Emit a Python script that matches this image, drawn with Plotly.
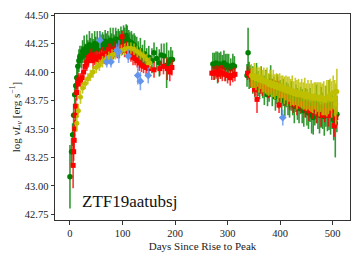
import plotly.graph_objects as go

# ---------------- data ----------------
g_days = [0, 3, 5, 7, 9, 11, 13, 15, 17, 19, 22, 24, 27, 29, 32, 34, 37, 39, 42, 44, 47, 49, 52, 54, 57, 59,
          62, 64, 67, 69, 72, 74, 77, 79, 82, 84, 87, 89, 92, 94, 97, 99, 102, 104, 107, 109, 112, 114, 117, 119,
          122, 124, 127, 130, 134, 138, 142, 146, 150, 156, 160, 165, 170, 174, 179, 184, 188, 192, 195,
          272, 275, 278, 281, 284, 287, 290, 293, 296, 299, 302, 306, 310, 313,
          337, 339, 341, 344, 348, 352, 355, 358, 361, 364, 367, 370, 373, 376, 379, 382, 385, 388, 391, 394, 397,
          400, 403, 406, 409, 412, 415, 418, 421, 424, 427, 430, 433, 436, 439, 442, 445, 448, 451, 454, 457, 460,
          463, 466, 469, 472, 475, 478, 481, 484, 487, 490, 493, 496, 499, 502, 505, 508]
g_lum = [43.08, 43.30, 43.45, 43.62, 43.80, 43.88, 43.95, 44.05, 44.10, 44.14, 44.13, 44.18, 44.20, 44.15, 44.22,
         44.18, 44.24, 44.20, 44.23, 44.19, 44.25, 44.21, 44.24, 44.20, 44.26, 44.22, 44.25, 44.21, 44.27, 44.23,
         44.26, 44.22, 44.28, 44.24, 44.27, 44.23, 44.29, 44.25, 44.28, 44.24, 44.30, 44.26, 44.31, 44.28, 44.32,
         44.29, 44.27, 44.24, 44.26, 44.22, 44.24, 44.20, 44.21, 44.17, 44.19, 44.14, 44.16, 44.11, 44.13, 44.10,
         44.17, 44.12, 44.08, 44.15, 44.14, 44.06, 44.09, 44.11, 44.11,
         44.07, 44.05, 44.08, 44.04, 44.07, 44.06, 44.05, 44.08, 44.04, 44.06, 44.05, 44.03, 44.06, 44.05,
         43.97, 44.17, 43.97, 43.96, 43.93, 43.88, 43.95, 43.90, 43.86, 43.93, 43.87, 43.84, 43.90, 43.80, 43.86,
         43.92, 43.82, 43.86, 43.78, 43.85, 43.80, 43.83, 43.76, 43.82, 43.74, 43.80, 43.76, 43.72, 43.79, 43.74,
         43.70, 43.77, 43.72, 43.68, 43.75, 43.70, 43.66, 43.73, 43.69, 43.64, 43.71, 43.62, 43.60, 43.67, 43.72,
         43.65, 43.62, 43.69, 43.66, 43.61, 43.70, 43.64, 43.71, 43.62, 43.66, 43.58, 43.55, 43.63]
g_err = [0.28, 0.12, 0.10, 0.10, 0.10, 0.09, 0.10, 0.09, 0.10, 0.09, 0.10, 0.10, 0.12, 0.10, 0.11, 0.10, 0.12,
         0.10, 0.11, 0.10, 0.11, 0.10, 0.12, 0.10, 0.10, 0.11, 0.10, 0.12, 0.10, 0.11, 0.10, 0.10, 0.11, 0.10,
         0.12, 0.10, 0.10, 0.11, 0.10, 0.12, 0.10, 0.11, 0.10, 0.11, 0.10, 0.12, 0.10, 0.11, 0.10, 0.11, 0.10,
         0.12, 0.10, 0.10, 0.11, 0.10, 0.12, 0.10, 0.10, 0.11, 0.09, 0.10, 0.12, 0.10, 0.11, 0.20, 0.10, 0.11, 0.08,
         0.10, 0.12, 0.10, 0.14, 0.10, 0.12, 0.10, 0.11, 0.12, 0.10, 0.11, 0.09, 0.10, 0.09,
         0.10, 0.22, 0.12, 0.10, 0.12, 0.10, 0.13, 0.11, 0.10, 0.12, 0.10, 0.13, 0.12, 0.10, 0.12, 0.14, 0.12,
         0.10, 0.12, 0.13, 0.12, 0.10, 0.14, 0.12, 0.13, 0.11, 0.14, 0.12, 0.13, 0.12, 0.15, 0.12, 0.14, 0.13,
         0.12, 0.15, 0.14, 0.13, 0.16, 0.14, 0.15, 0.16, 0.15, 0.14, 0.17, 0.15, 0.16, 0.18, 0.16, 0.17, 0.18,
         0.16, 0.22, 0.17, 0.16, 0.18, 0.30, 0.16]

r_days = [6, 7, 8, 9, 10, 11, 13, 15, 17, 20, 23, 26, 29, 32, 35, 38, 41, 44, 47, 50, 54, 58, 62, 66, 70, 74,
          78, 82, 86, 90, 94, 99, 100, 104, 108, 112, 116, 120, 124, 128, 132, 136, 140, 145, 150, 160, 171, 178,
          185, 190, 194,
          270, 274, 278, 282, 286, 290, 295, 300, 305, 310, 314, 338, 343, 348, 352, 356, 362, 366, 372, 378,
          384, 390, 395, 398, 402, 410, 418, 425, 432, 440, 448, 455, 462, 470, 478, 485, 492, 498, 503, 506]
r_lum = [43.18, 43.30, 43.40, 43.50, 43.62, 43.70, 43.82, 43.90, 43.93, 43.93, 43.95, 44.00, 44.05, 44.08, 44.10,
         44.14, 44.15, 44.10, 44.12, 44.13, 44.11, 44.14, 44.15, 44.13, 44.16, 44.18, 44.19, 44.17, 44.20, 44.18,
         44.21, 44.31, 44.22, 44.19, 44.20, 44.17, 44.15, 44.13, 44.12, 44.10, 44.08, 44.06, 44.05, 44.04, 44.03,
         44.02, 44.03, 44.05, 44.03, 44.00, 44.04,
         43.99, 43.99, 44.00, 43.98, 44.00, 43.99, 43.98, 43.97, 43.95, 43.97, 43.98, 43.99, 43.97, 43.89, 43.85,
         43.76, 43.88, 43.86, 43.88, 43.84, 43.88, 43.86, 43.90, 43.71, 43.80, 43.78, 43.74, 43.72, 43.70, 43.72,
         43.68, 43.66, 43.68, 43.64, 43.62, 43.66, 43.62, 43.66, 43.53, 43.60]
r_err = [0.20, 0.08, 0.08, 0.08, 0.08, 0.07, 0.07, 0.07, 0.06, 0.06, 0.06, 0.07, 0.06, 0.07, 0.06, 0.06, 0.06,
         0.07, 0.06, 0.06, 0.07, 0.06, 0.07, 0.06, 0.06, 0.07, 0.06, 0.06, 0.07, 0.06, 0.06, 0.05, 0.06, 0.06,
         0.07, 0.06, 0.06, 0.07, 0.06, 0.06, 0.07, 0.06, 0.06, 0.07, 0.06, 0.07, 0.06, 0.07, 0.10, 0.08, 0.07,
         0.06, 0.06, 0.06, 0.07, 0.06, 0.07, 0.06, 0.07, 0.07, 0.06, 0.06, 0.06, 0.06, 0.07, 0.06, 0.12, 0.07,
         0.07, 0.06, 0.07, 0.06, 0.07, 0.06, 0.07, 0.07, 0.08, 0.07, 0.08, 0.08, 0.08, 0.08, 0.09, 0.09, 0.09,
         0.10, 0.10, 0.10, 0.09, 0.10, 0.10]

y_days = [13, 16, 20, 24, 29, 34, 39, 44, 50, 56, 62, 68, 74, 80, 86, 92, 98, 104, 110, 116,
          122, 128, 134, 140, 146, 152,
          345, 348, 351, 354, 357, 360, 363, 366, 369, 372, 375, 378, 381, 384, 387, 390, 393, 396, 399, 402,
          405, 408, 411, 414, 417, 420, 423, 426, 429, 432, 435, 438, 441, 444, 447, 450, 453, 456, 459, 462,
          465, 468, 471, 474, 477, 480, 483, 486, 489, 492, 495, 498, 501, 504, 506, 508]
y_lum = [43.55, 43.66, 43.78, 43.86, 43.90, 43.94, 43.97, 44.00, 44.04, 44.06, 44.09, 44.11, 44.13, 44.15, 44.16,
         44.18, 44.19, 44.20, 44.21, 44.21, 44.20, 44.18, 44.16, 44.14, 44.11, 44.08,
         43.97, 43.95, 43.97, 43.94, 43.96, 43.93, 43.95, 43.92, 43.93, 43.91, 43.92, 43.89, 43.91, 43.88, 43.90,
         43.87, 43.89, 43.86, 43.88, 43.85, 43.87, 43.84, 43.86, 43.83, 43.85, 43.82, 43.84, 43.81, 43.83, 43.80,
         43.82, 43.80, 43.81, 43.79, 43.81, 43.78, 43.80, 43.78, 43.79, 43.77, 43.79, 43.77, 43.78, 43.76, 43.78,
         43.76, 43.77, 43.75, 43.77, 43.78, 43.80, 43.76, 43.82, 43.77, 43.72, 43.83]
y_err = [0.07, 0.06, 0.06, 0.05, 0.05, 0.05, 0.05, 0.05, 0.05, 0.05, 0.05, 0.05, 0.05, 0.05, 0.05, 0.05, 0.05,
         0.05, 0.05, 0.05, 0.05, 0.05, 0.05, 0.05, 0.05, 0.05,
         0.10, 0.09, 0.11, 0.10, 0.09, 0.11, 0.10, 0.10, 0.11, 0.10, 0.12, 0.10, 0.11, 0.10, 0.12, 0.11, 0.10,
         0.12, 0.11, 0.12, 0.10, 0.12, 0.11, 0.13, 0.11, 0.12, 0.13, 0.11, 0.12, 0.13, 0.12, 0.11, 0.13, 0.12,
         0.14, 0.12, 0.13, 0.12, 0.14, 0.13, 0.12, 0.14, 0.13, 0.15, 0.13, 0.14, 0.15, 0.13, 0.16, 0.15, 0.14,
         0.16, 0.15, 0.16, 0.18, 0.20]

uv_days = [57, 70, 78, 89, 93, 111, 129, 134, 149, 405]
uv_lum = [44.28, 44.09, 44.09, 44.19, 44.18, 44.14, 43.97, 43.92, 43.97, 43.60]
uv_err = [0.07, 0.05, 0.05, 0.06, 0.10, 0.06, 0.08, 0.08, 0.07, 0.07]

x_ticks = [0, 100, 200, 300, 400, 500]
y_ticks = [42.75, 43.00, 43.25, 43.50, 43.75, 44.00, 44.25, 44.50]
object_name = "ZTF19aatubsj"

FONT = "Liberation Serif"

# drawing order: green, red, yellow, UV
series = [
    (g_days, g_lum, g_err, "#008000", "rgba(0,128,0,0.8)", "circle", 5.5),
    (r_days, r_lum, r_err, "#ff0000", "rgba(255,0,0,0.8)", "square", 5),
    (y_days, y_lum, y_err, "#bfbf00", "rgba(191,191,0,0.85)", "circle", 5),
    (uv_days, uv_lum, uv_err, "#6495ed", "rgba(100,149,237,0.8)", "diamond", 6),
]

fig = go.Figure()
for xs, ys, es, col, ecol, sym, sz in series:
    fig.add_trace(go.Scatter(
        x=xs, y=ys, mode="markers",
        marker=dict(color=col, size=sz, symbol=sym, line=dict(width=0)),
        error_y=dict(type="data", array=es, visible=True, color=ecol, thickness=1.6, width=0),
        showlegend=False,
    ))

fig.add_annotation(x=19, y=42.86, xref="x", yref="y", text=object_name, showarrow=False,
                   xanchor="left", yanchor="middle", font=dict(family=FONT, size=17, color="#111"))

axis_common = dict(showline=True, linecolor="#333", linewidth=1, mirror=True, ticks="outside",
                   ticklen=3.5, tickcolor="#333", showgrid=False, zeroline=False, automargin=False,
                   tickfont=dict(family=FONT, size=10.5, color="#222"))

fig.update_xaxes(range=[-28.5, 533], tickvals=x_ticks, ticktext=[str(v) for v in x_ticks],
                 title=dict(text="Days Since Rise to Peak", font=dict(family=FONT, size=11, color="#222"), standoff=4),
                 **axis_common)
fig.update_yaxes(range=[42.70, 44.51], tickvals=y_ticks, ticktext=[f"{v:.2f}" for v in y_ticks],
                 title=dict(text="log <i>νL</i><sub><i>ν</i></sub> [erg s<sup>−1</sup>]",
                            font=dict(family=FONT, size=11, color="#222"), standoff=6),
                 **axis_common)

# page body adds an 8px offset, so the figure is 8px smaller and shifted margins compensate
fig.update_layout(width=356, height=252, margin=dict(l=47, r=14, t=6, b=40, autoexpand=False),
                  plot_bgcolor="white", paper_bgcolor="white", font=dict(family=FONT))

fig.write_html("out.html")
